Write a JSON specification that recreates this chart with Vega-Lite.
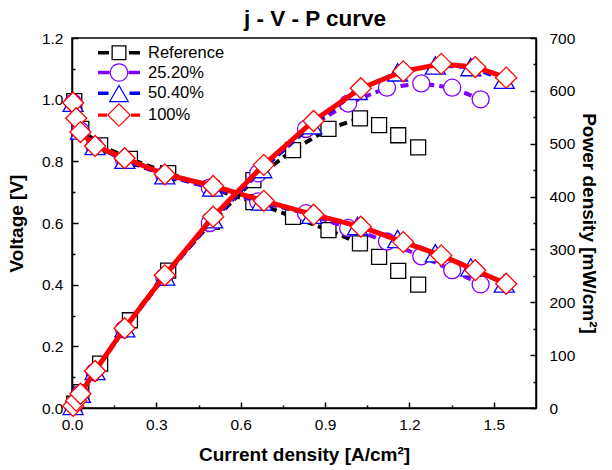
{
  "$schema": "https://vega.github.io/schema/vega-lite/v6.json",
  "width": 464,
  "height": 370,
  "autosize": {"type": "none"},
  "padding": {"left": 72, "top": 38, "right": 76, "bottom": 62},
  "background": "white",
  "title": {"text": "j - V - P curve", "fontSize": 22.5, "fontWeight": "bold", "font": "Liberation Sans", "color": "#000000", "anchor": "middle", "offset": 1, "dx": 11},
  "data": {"values": [
    {"series": "Reference", "j": 0.008, "V": 0.995, "P": 8},
    {"series": "Reference", "j": 0.033, "V": 0.905, "P": 30},
    {"series": "Reference", "j": 0.1, "V": 0.852, "P": 84},
    {"series": "Reference", "j": 0.206, "V": 0.808, "P": 166},
    {"series": "Reference", "j": 0.342, "V": 0.762, "P": 260},
    {"series": "Reference", "j": 0.497, "V": 0.712, "P": 352},
    {"series": "Reference", "j": 0.645, "V": 0.668, "P": 431},
    {"series": "Reference", "j": 0.786, "V": 0.62, "P": 488},
    {"series": "Reference", "j": 0.912, "V": 0.577, "P": 528},
    {"series": "Reference", "j": 1.024, "V": 0.534, "P": 548},
    {"series": "Reference", "j": 1.092, "V": 0.49, "P": 535},
    {"series": "Reference", "j": 1.16, "V": 0.445, "P": 516},
    {"series": "Reference", "j": 1.231, "V": 0.4, "P": 493},
    {"series": "25.20%", "j": 0.004, "V": 0.99, "P": 4},
    {"series": "25.20%", "j": 0.03, "V": 0.9, "P": 27},
    {"series": "25.20%", "j": 0.08, "V": 0.85, "P": 68},
    {"series": "25.20%", "j": 0.185, "V": 0.805, "P": 149},
    {"series": "25.20%", "j": 0.328, "V": 0.755, "P": 248},
    {"series": "25.20%", "j": 0.49, "V": 0.715, "P": 350},
    {"series": "25.20%", "j": 0.662, "V": 0.67, "P": 444},
    {"series": "25.20%", "j": 0.832, "V": 0.632, "P": 528},
    {"series": "25.20%", "j": 0.982, "V": 0.584, "P": 576},
    {"series": "25.20%", "j": 1.12, "V": 0.54, "P": 606},
    {"series": "25.20%", "j": 1.242, "V": 0.492, "P": 614},
    {"series": "25.20%", "j": 1.352, "V": 0.447, "P": 606},
    {"series": "25.20%", "j": 1.453, "V": 0.401, "P": 584},
    {"series": "50.40%", "j": 0.004, "V": 0.99, "P": 4},
    {"series": "50.40%", "j": 0.03, "V": 0.9, "P": 27},
    {"series": "50.40%", "j": 0.082, "V": 0.85, "P": 70},
    {"series": "50.40%", "j": 0.188, "V": 0.805, "P": 151},
    {"series": "50.40%", "j": 0.33, "V": 0.755, "P": 249},
    {"series": "50.40%", "j": 0.5, "V": 0.715, "P": 357},
    {"series": "50.40%", "j": 0.675, "V": 0.67, "P": 452},
    {"series": "50.40%", "j": 0.853, "V": 0.627, "P": 535},
    {"series": "50.40%", "j": 1.015, "V": 0.59, "P": 600},
    {"series": "50.40%", "j": 1.158, "V": 0.548, "P": 635},
    {"series": "50.40%", "j": 1.292, "V": 0.502, "P": 648},
    {"series": "50.40%", "j": 1.418, "V": 0.456, "P": 645},
    {"series": "50.40%", "j": 1.537, "V": 0.404, "P": 621},
    {"series": "100%", "j": 0.004, "V": 0.99, "P": 4},
    {"series": "100%", "j": 0.015, "V": 0.94, "P": 14},
    {"series": "100%", "j": 0.03, "V": 0.895, "P": 27},
    {"series": "100%", "j": 0.082, "V": 0.85, "P": 70},
    {"series": "100%", "j": 0.187, "V": 0.81, "P": 151},
    {"series": "100%", "j": 0.33, "V": 0.758, "P": 251},
    {"series": "100%", "j": 0.502, "V": 0.72, "P": 362},
    {"series": "100%", "j": 0.682, "V": 0.672, "P": 460},
    {"series": "100%", "j": 0.859, "V": 0.627, "P": 543},
    {"series": "100%", "j": 1.027, "V": 0.588, "P": 605},
    {"series": "100%", "j": 1.178, "V": 0.538, "P": 637},
    {"series": "100%", "j": 1.313, "V": 0.495, "P": 651},
    {"series": "100%", "j": 1.434, "V": 0.447, "P": 645},
    {"series": "100%", "j": 1.544, "V": 0.403, "P": 625}
  ]},
  "encoding": {
    "x": {
      "field": "j", "type": "quantitative",
      "scale": {"domain": [0, 1.65], "nice": false, "zero": false},
      "axis": {
        "title": "Current density [A/cm²]",
        "values": [0, 0.15, 0.3, 0.45, 0.6, 0.75, 0.9, 1.05, 1.2, 1.35, 1.5],
        "labelExpr": "round(datum.value*20) % 6 == 0 ? format(datum.value, '.1f') : ''",
        "tickSize": {"condition": {"test": "round(datum.value*20) % 6 != 0", "value": -3}, "value": -6},
        "labelOverlap": false,
        "labelFlush": false,
        "labelPadding": 15,
        "titlePadding": 10
      }
    }
  },
  "layer": [
    {
      "encoding": {
        "y": {
          "field": "V", "type": "quantitative",
          "scale": {"domain": [0, 1.2], "nice": false, "zero": false},
          "axis": {
            "title": "Voltage [V]",
            "values": [0, 0.1, 0.2, 0.3, 0.4, 0.5, 0.6, 0.7, 0.8, 0.9, 1.0, 1.1, 1.2],
            "labelExpr": "round(datum.value*10) % 2 == 0 ? format(datum.value, '.1f') : ''",
            "tickSize": {"condition": {"test": "round(datum.value*10) % 2 != 0", "value": -3}, "value": -6},
            "labelOverlap": false,
            "labelFlush": false,
            "labelPadding": 15,
            "titlePadding": 15
          }
        }
      },
      "layer": [
        {"transform": [{"filter": "datum.series === 'Reference' && datum.j <= 1.03"}], "mark": {"type": "line", "stroke": "#000000", "strokeWidth": 4, "strokeDash": [8, 5]}, "encoding": {}},
        {"transform": [{"filter": "datum.series === 'Reference'"}], "mark": {"type": "point", "shape": "square", "size": 225, "filled": true, "fill": "#ffffff", "stroke": "#000000", "strokeWidth": 1.3, "opacity": 1}, "encoding": {}},
        {"transform": [{"filter": "datum.series === '25.20%'"}], "mark": {"type": "line", "stroke": "#8000FF", "strokeWidth": 4, "strokeDash": [8, 5]}, "encoding": {}},
        {"transform": [{"filter": "datum.series === '25.20%'"}], "mark": {"type": "point", "shape": "circle", "size": 290, "filled": true, "fill": "#ffffff", "stroke": "#8000FF", "strokeWidth": 1.3, "opacity": 1}, "encoding": {}},
        {"transform": [{"filter": "datum.series === '50.40%'"}], "mark": {"type": "line", "stroke": "#0000FF", "strokeWidth": 4, "strokeDash": [8, 5]}, "encoding": {}},
        {"transform": [{"filter": "datum.series === '50.40%'"}], "mark": {"type": "point", "shape": "triangle-up", "size": 400, "filled": true, "fill": "#ffffff", "stroke": "#0000FF", "strokeWidth": 1.3, "opacity": 1}, "encoding": {}},
        {"transform": [{"filter": "datum.series === '100%'"}], "mark": {"type": "line", "stroke": "#FF0000", "strokeWidth": 5}, "encoding": {}},
        {"transform": [{"filter": "datum.series === '100%'"}], "mark": {"type": "point", "shape": "diamond", "size": 440, "filled": true, "fill": "#ffffff", "stroke": "#FF0000", "strokeWidth": 1.3, "opacity": 1}, "encoding": {}}
      ]
    },
    {
      "encoding": {
        "y": {
          "field": "P", "type": "quantitative",
          "scale": {"domain": [0, 700], "nice": false, "zero": false},
          "axis": {
            "orient": "right",
            "title": "Power density [mW/cm²]",
            "values": [0, 50, 100, 150, 200, 250, 300, 350, 400, 450, 500, 550, 600, 650, 700],
            "labelExpr": "datum.value % 100 == 0 ? format(datum.value, 'd') : ''",
            "tickSize": {"condition": {"test": "datum.value % 100 != 0", "value": -3}, "value": -6},
            "labelOverlap": false,
            "labelFlush": false,
            "labelPadding": 19,
            "titlePadding": 4
          }
        }
      },
      "layer": [
        {"transform": [{"filter": "datum.series === 'Reference' && datum.j <= 1.03"}], "mark": {"type": "line", "stroke": "#000000", "strokeWidth": 4, "strokeDash": [8, 5]}, "encoding": {}},
        {"transform": [{"filter": "datum.series === 'Reference'"}], "mark": {"type": "point", "shape": "square", "size": 225, "filled": true, "fill": "#ffffff", "stroke": "#000000", "strokeWidth": 1.3, "opacity": 1}, "encoding": {}},
        {"transform": [{"filter": "datum.series === '25.20%'"}], "mark": {"type": "line", "stroke": "#8000FF", "strokeWidth": 4, "strokeDash": [8, 5]}, "encoding": {}},
        {"transform": [{"filter": "datum.series === '25.20%'"}], "mark": {"type": "point", "shape": "circle", "size": 290, "filled": true, "fill": "#ffffff", "stroke": "#8000FF", "strokeWidth": 1.3, "opacity": 1}, "encoding": {}},
        {"transform": [{"filter": "datum.series === '50.40%'"}], "mark": {"type": "line", "stroke": "#0000FF", "strokeWidth": 4, "strokeDash": [8, 5]}, "encoding": {}},
        {"transform": [{"filter": "datum.series === '50.40%'"}], "mark": {"type": "point", "shape": "triangle-up", "size": 400, "filled": true, "fill": "#ffffff", "stroke": "#0000FF", "strokeWidth": 1.3, "opacity": 1}, "encoding": {}},
        {"transform": [{"filter": "datum.series === '100%'"}], "mark": {"type": "line", "stroke": "#FF0000", "strokeWidth": 5}, "encoding": {}},
        {"transform": [{"filter": "datum.series === '100%'"}], "mark": {"type": "point", "shape": "diamond", "size": 440, "filled": true, "fill": "#ffffff", "stroke": "#FF0000", "strokeWidth": 1.3, "opacity": 1}, "encoding": {}}
      ]
    },
    {
      "mark": {"type": "point", "filled": true, "opacity": 0},
      "encoding": {
        "shape": {
          "field": "series", "type": "nominal",
          "scale": {
            "domain": ["Reference", "25.20%", "50.40%", "100%"],
            "range": [
              "M-2.1,-0.17H-1.0V0.17H-2.1Z M1.0,-0.17H2.1V0.17H1.0Z M-0.75,-0.75H0.75V0.75H-0.75Z M-0.62,-0.62V0.62H0.62V-0.62Z",
              "M-2.1,-0.17H-0.95V0.17H-2.1Z M0.95,-0.17H2.1V0.17H0.95Z M0.93,0A0.93,0.93,0,1,1,-0.93,0A0.93,0.93,0,1,1,0.93,0Z M0.81,0A0.81,0.81,0,1,0,-0.81,0A0.81,0.81,0,1,0,0.81,0Z",
              "M-2.1,-0.17H-1.05V0.17H-2.1Z M1.05,-0.17H2.1V0.17H1.05Z M0,-0.9L1.03,0.9L-1.03,0.9Z M0,-0.66L-0.83,0.78L0.83,0.78Z",
              "M-2.1,-0.17H-1.2V0.17H-2.1Z M1.2,-0.17H2.1V0.17H1.2Z M0,-1.2L1.2,0L0,1.2L-1.2,0Z M0,-1.03L-1.03,0L0,1.03L1.03,0Z"
            ]
          },
          "legend": {"orient": "none", "legendX": 37, "legendY": 4.7, "title": null, "symbolSize": 400, "symbolStrokeWidth": 0, "symbolOpacity": 1, "labelFontSize": 16.5, "labelFont": "Liberation Sans", "labelColor": "#000000", "labelOffset": 19, "rowPadding": 0.8, "padding": 0,
            "encode": {"symbols": {"update": {"opacity": {"value": 1}, "fillOpacity": {"value": 1}}}}}
        },
        "fill": {
          "field": "series", "type": "nominal",
          "scale": {"domain": ["Reference", "25.20%", "50.40%", "100%"], "range": ["#000000", "#8000FF", "#0000FF", "#FF0000"]},
          "legend": {"orient": "none", "legendX": 37, "legendY": 4.7, "title": null, "symbolSize": 400, "symbolStrokeWidth": 0, "symbolOpacity": 1, "labelFontSize": 16.5, "labelFont": "Liberation Sans", "labelColor": "#000000", "labelOffset": 19, "rowPadding": 0.8, "padding": 0,
            "encode": {"symbols": {"update": {"opacity": {"value": 1}, "fillOpacity": {"value": 1}}}}}
        }
      }
    }
  ],
  "resolve": {"scale": {"y": "independent"}},
  "config": {
    "view": {"stroke": "#000000", "strokeWidth": 1.5},
    "font": "Liberation Sans",
    "axis": {
      "grid": false,
      "labelColor": "#000000", "titleColor": "#000000", "domainColor": "#000000", "tickColor": "#000000",
      "domainWidth": 1.5, "tickWidth": 1.5,
      "labelFont": "Liberation Sans", "titleFont": "Liberation Sans",
      "labelFontSize": 15.5, "titleFontSize": 19, "titleFontWeight": "bold"
    }
  }
}
